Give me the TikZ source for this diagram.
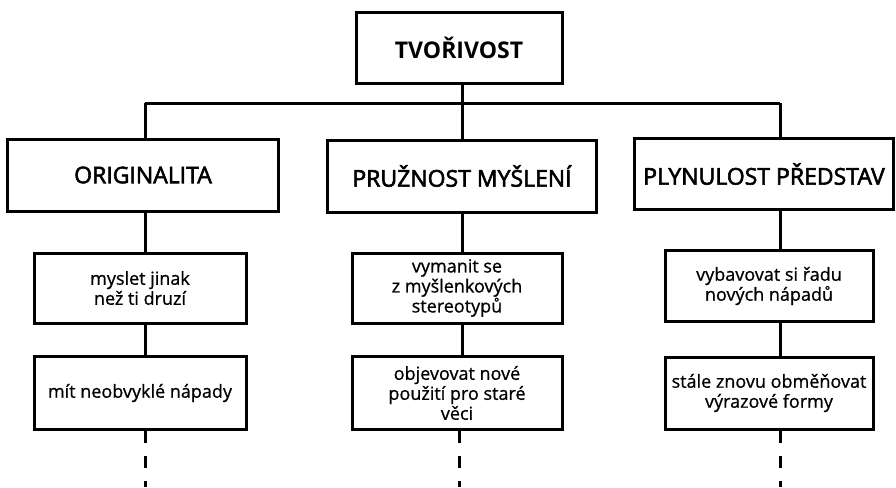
\documentclass[tikz,border=0pt]{standalone}
\usepackage{fontspec}
\setmainfont{Open Sans}
\newfontfamily\midfont[FakeBold=2.5]{Open Sans}
\newfontfamily\lowfont[FakeBold=0.8]{Open Sans}
\begin{document}
\begin{tikzpicture}[x=1pt,y=-1pt,
  box/.style={draw,line width=3pt,inner sep=0pt,align=center},
  top/.style={box,font=\fontsize{23}{26}\selectfont\bfseries},
  mid/.style={box,font=\midfont\fontsize{23}{26}\selectfont},
  low/.style={box,font=\lowfont\fontsize{18}{20}\selectfont},
  conn/.style={line width=3pt},
  dline/.style={line width=3pt,dash pattern=on 12pt off 13pt}]
\useasboundingbox (0,0) rectangle (896,487);
% top
\node[top,minimum width=206pt,minimum height=70pt] (T) at (459,48) {TVOŘIVOST};
% level 2
\node[mid,minimum width=271pt,minimum height=72pt] (A) at (143,175) {ORIGINALITA};
\node[mid,minimum width=269pt,minimum height=72pt] (B) at (462,176) {PRUŽNOST MYŠLENÍ};
\node[mid,minimum width=259pt,minimum height=71pt] (C) at (764,174) {PLYNULOST PŘEDSTAV};
% level 3
\node[low,minimum width=212pt,minimum height=70pt] (A1) at (140,288) {myslet jinak\\než ti druzí};
\node[low,minimum width=210pt,minimum height=70pt] (B1) at (457,288) {vymanit se\\z myšlenkových\\stereotypů};
\node[low,minimum width=208pt,minimum height=71pt] (C1) at (769,286) {vybavovat si řadu\\nových nápadů};
% level 4
\node[low,minimum width=212pt,minimum height=73pt] (A2) at (140,393) {mít neobvyklé nápady};
\node[low,minimum width=210pt,minimum height=73pt] (B2) at (457,393) {objevovat nové\\použití pro staré\\věci};
\node[low,minimum width=208pt,minimum height=72pt] (C2) at (769,393) {stále znovu obměňovat\\výrazové formy};
% junctions
\coordinate (jL) at (145,103);
\coordinate (jM) at (462,103);
\coordinate (jR) at (780,103);
\coordinate (eA) at (145,487);
\coordinate (eB) at (459,487);
\coordinate (eC) at (780,487);
% connectors
\draw[conn] (jL) -- (jR);
\draw[conn] (jM |- T.south) -- (jM |- B.north);
\draw[conn] (jL) -- (jL |- A.north);
\draw[conn] (jR) -- (jR |- C.north);
\draw[conn] (jL |- A.south) -- (jL |- A1.north);
\draw[conn] (jL |- A1.south) -- (jL |- A2.north);
\draw[conn] (jM |- B.south) -- (jM |- B1.north);
\draw[conn] (jM |- B1.south) -- (jM |- B2.north);
\draw[conn] (jR |- C.south) -- (jR |- C1.north);
\draw[conn] (jR |- C1.south) -- (jR |- C2.north);
\draw[dline] (eA |- A2.south) -- (eA);
\draw[dline] (eB |- B2.south) -- (eB);
\draw[dline] (eC |- C2.south) -- (eC);
\end{tikzpicture}
\end{document}
